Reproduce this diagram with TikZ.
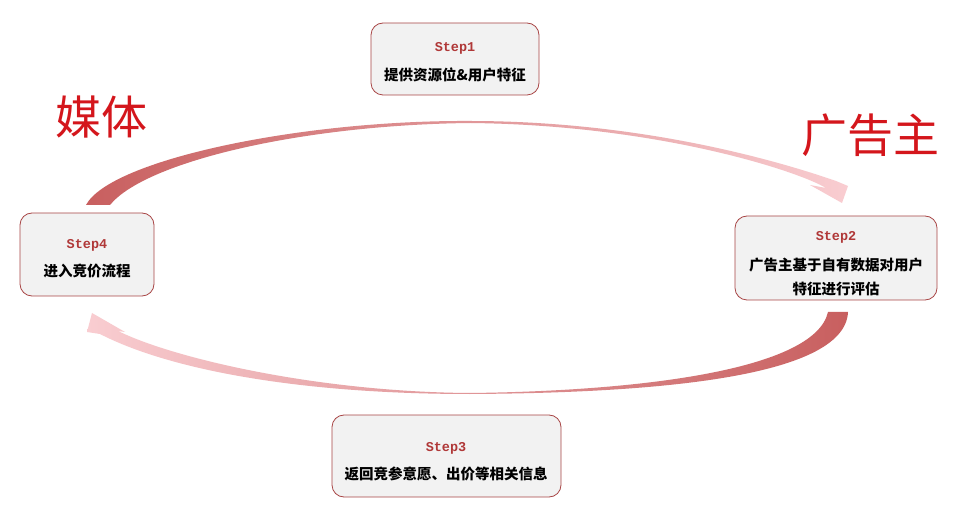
\documentclass[tikz,border=0pt]{standalone}
\usepackage{fontspec}
\newfontfamily\cjk{Noto Sans CJK SC}
\newfontfamily\monob{Liberation Mono}
\definecolor{arcdark}{HTML}{C85F5F}
\definecolor{arcmid}{HTML}{DDA3A5}
\definecolor{arcpink}{HTML}{F9CDD1}
\definecolor{boxline}{HTML}{A84545}
\definecolor{boxfill}{HTML}{F2F2F2}
\definecolor{steptxt}{HTML}{B03838}
\definecolor{titlered}{HTML}{D4161C}
\tikzset{
  stepbox/.style={draw=boxline, line width=0.8pt, fill=boxfill, rounded corners=12pt, inner sep=0pt},
  steplabel/.style={font=\monob\bfseries\fontsize{13.5}{16}\selectfont, text=steptxt, inner sep=0pt},
  desc/.style={font=\cjk\bfseries\fontsize{14.5}{17}\selectfont, text=black, inner sep=0pt},
  bigtitle/.style={font=\cjk\fontsize{46}{50}\selectfont, text=titlered, inner sep=0pt},
}
\begin{document}
\begin{tikzpicture}[x=1pt,y=-1pt]
\useasboundingbox[fill=white] (0,0) rectangle (958,518);
% top curved arrow (media -> advertiser)
\path[left color=arcdark, middle color=arcmid, right color=arcpink]
  (86,205) .. controls (110,160) and (300,120) .. (470,121)
  .. controls (650,121) and (790,165) .. (836,181)
  -- (848,186) -- (842,203) -- (810,185) -- (826,188)
  .. controls (800,172) and (660,125) .. (470,123)
  .. controls (300,125) and (145,162) .. (110,205) -- cycle;
% bottom curved arrow (advertiser -> media)
\path[left color=arcpink, middle color=arcmid, right color=arcdark]
  (848,312) .. controls (845,380) and (640,393) .. (470,394)
  .. controls (300,394) and (170,370) .. (100,334)
  -- (87,332) -- (92,313) -- (125,332) -- (118,331)
  .. controls (175,359) and (320,392) .. (470,393)
  .. controls (640,391) and (815,370) .. (828,312) -- cycle;
% titles
\node[bigtitle] (media) at (101,117) {媒体};
\node[bigtitle] (adv) at (870,135) {广告主};
% boxes
\node[stepbox, minimum width=168pt, minimum height=72pt] (s1) at (455,59) {};
\node[stepbox, minimum width=202pt, minimum height=84pt] (s2) at (836,258) {};
\node[stepbox, minimum width=229pt, minimum height=82pt] (s3) at (446.5,456) {};
\node[stepbox, minimum width=134pt, minimum height=83pt] (s4) at (87,254.5) {};
% texts
\node[steplabel] (s1a) at (455,48) {Step1};
\node[desc] (s1b) at (455,75) {提供资源位\&用户特征};
\node[steplabel] (s2a) at (836,237) {Step2};
\node[desc] (s2b) at (836,265) {广告主基于自有数据对用户};
\node[desc] (s2c) at (836,289) {特征进行评估};
\node[steplabel] (s3a) at (446,448) {Step3};
\node[desc] (s3b) at (446,474) {返回竞参意愿、出价等相关信息};
\node[steplabel] (s4a) at (87,245) {Step4};
\node[desc] (s4b) at (87,271) {进入竞价流程};
\end{tikzpicture}
\end{document}
